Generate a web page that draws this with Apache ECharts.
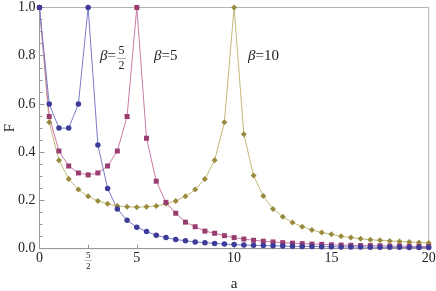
<!DOCTYPE html>
<html><head><meta charset="utf-8">
<script src="https://cdn.jsdelivr.net/npm/echarts@6/dist/echarts.min.js"></script>
<style>html,body{margin:0;padding:0;background:#fff}#c{width:436px;height:291px}</style>
</head><body><div id="c"></div>
<script>
const aValues = [0,0.5,1,1.5,2,2.5,3,3.5,4,4.5,5,5.5,6,6.5,7,7.5,8,8.5,9,9.5,10,10.5,11,11.5,12,12.5,13,13.5,14,14.5,15,15.5,16,16.5,17,17.5,18,18.5,19,19.5,20];
const fBeta25 = [1,0.6,0.5,0.5,0.6,1,0.43,0.25,0.165,0.118,0.089,0.071,0.056,0.046,0.038,0.033,0.028,0.025,0.022,0.019,0.017,0.015,0.014,0.013,0.012,0.011,0.010,0.0095,0.009,0.0085,0.008,0.0075,0.007,0.0068,0.0065,0.006,0.0058,0.0055,0.0052,0.005,0.0048];
const fBeta5 = [1,0.548,0.405,0.343,0.314,0.306,0.314,0.343,0.405,0.548,1,0.458,0.28,0.192,0.147,0.11,0.091,0.073,0.064,0.054,0.046,0.04,0.035,0.031,0.028,0.025,0.023,0.021,0.019,0.018,0.016,0.015,0.014,0.013,0.013,0.012,0.011,0.011,0.010,0.0095,0.009];
const fBeta10 = [1,0.524,0.367,0.289,0.245,0.217,0.198,0.186,0.177,0.174,0.172,0.174,0.177,0.186,0.198,0.217,0.245,0.289,0.367,0.524,1,0.475,0.303,0.218,0.165,0.132,0.109,0.091,0.078,0.067,0.06,0.052,0.046,0.041,0.037,0.035,0.032,0.03,0.028,0.026,0.024];
const xTicks = [0,2.5,5,10,15,20];
const yTicks = [0,0.2,0.4,0.6,0.8,1.0];

const FONT = 'Liberation Serif';
const pairs = ys => aValues.map((a,i)=>[a,ys[i]]);
const chart = echarts.init(document.getElementById('c'), null, {renderer:'canvas'});
const mk = (name, ys, color, lineColor, symbol, size) => ({
  name, type:'line', data: pairs(ys), symbol, symbolSize:size,
  itemStyle:{color}, lineStyle:{color:lineColor, width:1}, animation:false, z:3
});
chart.setOption({
  animation:false,
  grid:{left:39.5, right:7.3, top:7.5, bottom:42.3, show:true, borderColor:'#b4b4b4', borderWidth:1,
        containLabel:false, outerBoundsMode:'none'},
  xAxis:{type:'value', min:0, max:20, name:'a', nameLocation:'middle', nameGap:28, nameMoveOverlap:false,
    nameTextStyle:{fontFamily:FONT, fontSize:15, color:'#222'},
    axisLine:{show:true, lineStyle:{color:'#999'}}, splitLine:{show:false},
    axisTick:{show:true, inside:true, length:4, customValues:xTicks, lineStyle:{color:'#999'}},
    axisLabel:{customValues:xTicks, margin:3, fontFamily:FONT, fontSize:14, color:'#222',
      formatter:v => v===2.5 ? '{n|5}\n{b|—}\n{d|2}' : String(v),
      rich:{n:{fontFamily:FONT,fontSize:9,lineHeight:7,color:'#222',align:'center'},
            b:{fontFamily:FONT,fontSize:7,lineHeight:3,color:'#333',align:'center'},
            d:{fontFamily:FONT,fontSize:9,lineHeight:9,color:'#222',align:'center'}}}
  },
  yAxis:{type:'value', min:0, max:1, interval:0.2, name:'F', nameLocation:'middle', nameGap:22, nameMoveOverlap:false,
    nameTextStyle:{fontFamily:FONT, fontSize:15, color:'#222'},
    axisLine:{show:true, lineStyle:{color:'#999'}}, splitLine:{show:false},
    axisTick:{show:true, inside:true, length:5, lineStyle:{color:'#999'}},
    minorTick:{show:true, splitNumber:4, length:3, lineStyle:{color:'#999'}},
    axisLabel:{margin:4, fontFamily:FONT, fontSize:14, color:'#222', formatter:v=>v.toFixed(1)}
  },
  series:[
    mk('β=10', fBeta10, '#998b3d', '#c4b978', 'diamond', 6),
    mk('β=5', fBeta5, '#993d71', '#c77ba6', 'rect', 5),
    mk('β=5/2', fBeta25, '#3d3d99', '#7b7bc9', 'circle', 5.5)
  ],
  graphic:[
    {type:'text', left:100, top:49, style:{text:'{i|β}=', rich:{i:{fontStyle:'italic',fontFamily:FONT,fontSize:15}}, fontFamily:FONT, fontSize:15, fill:'#222'}},
    {type:'text', left:117, top:45, style:{text:'{n|5}\n{b|—}\n{d|2}', align:'center', rich:{
      n:{fontFamily:FONT,fontSize:12,lineHeight:10,fill:'#222',align:'center'},
      b:{fontFamily:FONT,fontSize:9,lineHeight:4,fill:'#333',align:'center'},
      d:{fontFamily:FONT,fontSize:12,lineHeight:12,fill:'#222',align:'center'}}}},
    {type:'text', left:154, top:49, style:{text:'{i|β}=5', rich:{i:{fontStyle:'italic',fontFamily:FONT,fontSize:15}}, fontFamily:FONT, fontSize:15, fill:'#222'}},
    {type:'text', left:248, top:49, style:{text:'{i|β}=10', rich:{i:{fontStyle:'italic',fontFamily:FONT,fontSize:15}}, fontFamily:FONT, fontSize:15, fill:'#222'}}
  ]
});
</script></body></html>
